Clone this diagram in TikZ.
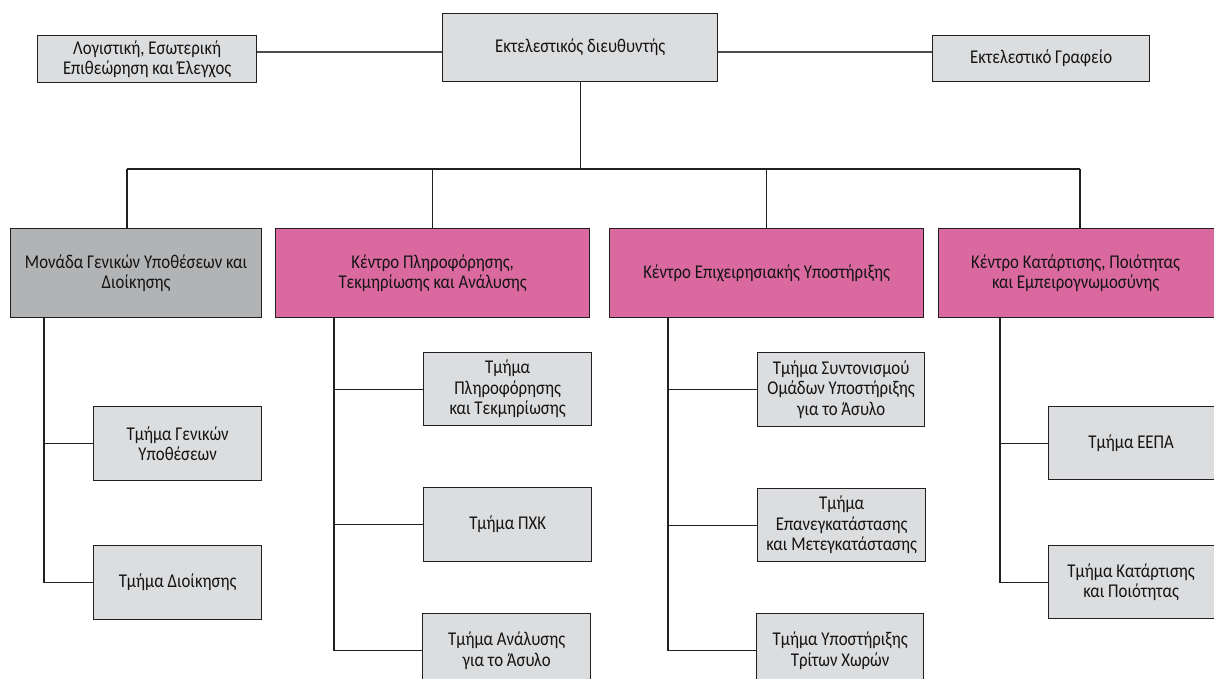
\documentclass[tikz,border=0pt]{standalone}
\usepackage{fontspec}
\setmainfont{Carlito}[FakeStretch=0.86]
\definecolor{boxgray}{HTML}{DCDDDF}
\definecolor{darkgray}{HTML}{B2B3B5}
\definecolor{pinkbox}{HTML}{DA69A0}
\definecolor{edge}{HTML}{231F20}
\definecolor{linegray}{HTML}{4D4D4F}
\begin{document}
\begin{tikzpicture}[x=1pt,y=-1pt,
  box/.style={draw=edge, line width=1.3pt, fill=boxgray, anchor=north west, inner sep=0pt,
    align=center, font=\fontsize{19.5}{20.5}\selectfont, text=black!92},
  unitgray/.style={box, fill=darkgray},
  unitpink/.style={box, fill=pinkbox},
  topline/.style={draw=linegray, line width=1.6pt},
  conn/.style={draw=edge, line width=1.1pt}]
\useasboundingbox (0,0) rectangle (1214,679);
\clip (0,0) rectangle (1214,679);
% top row
\node[box, minimum width=275pt, minimum height=68pt] (ceo) at (442,13) {Εκτελεστικός διευθυντής};
\node[box, minimum width=219pt, minimum height=47pt] (acc) at (37,35) {Λογιστική, Εσωτερική\\Επιθεώρηση και Έλεγχος};
\node[box, minimum width=217pt, minimum height=46pt] (off) at (932,35) {Εκτελεστικό Γραφείο};
\coordinate (hy) at (0,52);
\draw[topline] (acc.east |- hy) -- (ceo.west |- hy);
\draw[topline] (ceo.east |- hy) -- (off.west |- hy);
% second row
\node[unitgray, minimum width=251pt, minimum height=89pt] (m1) at (10,228) {Μονάδα Γενικών Υποθέσεων και\\Διοίκησης};
\node[unitpink, minimum width=314pt, minimum height=89pt] (m2) at (275,228) {Κέντρο Πληροφόρησης,\\Τεκμηρίωσης και Ανάλυσης};
\node[unitpink, minimum width=314pt, minimum height=89pt] (m3) at (609,228) {Κέντρο Επιχειρησιακής Υποστήριξης};
\node[unitpink, minimum width=284pt, minimum height=89pt] (m4) at (938,228) {\hspace*{-10pt}Κέντρο Κατάρτισης, Ποιότητας\\\hspace*{-10pt}και Εμπειρογνωμοσύνης};
\coordinate (busL) at (127,169);
\coordinate (busR) at (1080,169);
\draw[conn] (busL) -- (busR);
\draw[conn] (ceo.south) -- (ceo.south |- busL);
\draw[conn] (busL) -- (busL |- m1.north);
\draw[conn] (m2.north |- busL) -- (m2.north);
\draw[conn] (m3.north |- busL) -- (m3.north);
\draw[conn] (busR) -- (busR |- m4.north);
% column 1
\node[box, minimum width=168pt, minimum height=74pt] (g1) at (93,406) {Τμήμα Γενικών\\Υποθέσεων};
\node[box, minimum width=168pt, minimum height=74pt] (g2) at (93,545) {Τμήμα Διοίκησης};
\coordinate (v1) at ([xshift=34pt]m1.south west);
\draw[conn] (v1) |- (g1.west);
\draw[conn] (v1) |- (g2.west);
% column 2
\node[box, minimum width=168pt, minimum height=73pt] (b1) at (423,352) {Τμήμα\\Πληροφόρησης\\και Τεκμηρίωσης};
\node[box, minimum width=168pt, minimum height=74pt] (b2) at (423,487) {Τμήμα ΠΧΚ};
\node[box, minimum width=168pt, minimum height=74pt] (b3) at (422,613) {Τμήμα Ανάλυσης\\για το Άσυλο};
\coordinate (v2) at ([xshift=59pt]m2.south west);
\draw[conn] (v2) |- (b1.west);
\draw[conn] (v2) |- (b2.west);
\draw[conn] (v2) |- (b3.west);
% column 3
\node[box, minimum width=167pt, minimum height=74pt] (c1) at (757,352) {Τμήμα Συντονισμού\\Ομάδων Υποστήριξης\\για το Άσυλο};
\node[box, minimum width=168pt, minimum height=73pt] (c2) at (757,488) {Τμήμα\\Επανεγκατάστασης\\και Μετεγκατάστασης};
\node[box, minimum width=167pt, minimum height=74pt] (c3) at (756,613) {Τμήμα Υποστήριξης\\Τρίτων Χωρών};
\coordinate (v3) at ([xshift=59pt]m3.south west);
\draw[conn] (v3) |- (c1.west);
\draw[conn] (v3) |- (c2.west);
\draw[conn] (v3) |- (c3.west);
% column 4
\node[box, minimum width=172pt, minimum height=73pt] (d1) at (1048,406) {\hspace*{-7pt}Τμήμα ΕΕΠΑ};
\node[box, minimum width=172pt, minimum height=73pt] (d2) at (1048,545) {\hspace*{-7pt}Τμήμα Κατάρτισης\\\hspace*{-7pt}και Ποιότητας};
\coordinate (v4) at ([xshift=62pt]m4.south west);
\draw[conn] (v4) |- (d1.west);
\draw[conn] (v4) |- (d2.west);
\end{tikzpicture}
\end{document}
